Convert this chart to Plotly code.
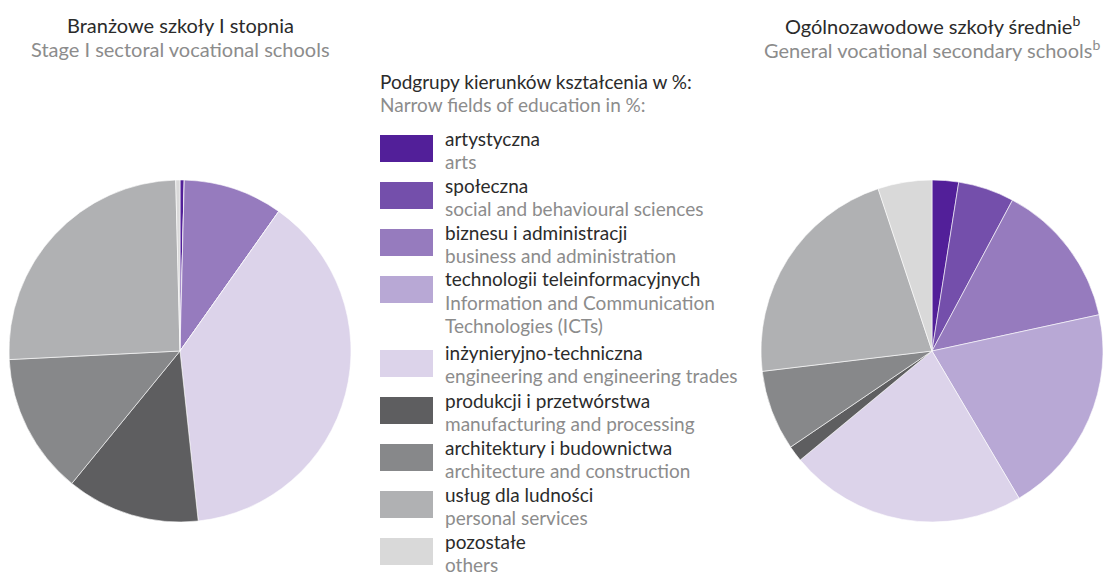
import plotly.graph_objects as go

# Narrow fields of education (legend order)
labels_pl = ["artystyczna", "społeczna", "biznesu i administracji", "technologii teleinformacyjnych",
             "inżynieryjno-techniczna", "produkcji i przetwórstwa", "architektury i budownictwa",
             "usług dla ludności", "pozostałe"]
labels_en = [["arts"], ["social and behavioural sciences"], ["business and administration"],
             ["Information and Communication", "Technologies (ICTs)"],
             ["engineering and engineering trades"], ["manufacturing and processing"],
             ["architecture and construction"], ["personal services"], ["others"]]
colors = ["#521f99", "#744fab", "#967bbe", "#b8a8d5", "#dcd3ea",
          "#5e5e60", "#87888a", "#b0b1b3", "#d9d9d9"]

# shares in %
sectoral_stage1 = [0.4, 0.0, 9.4, 0.0, 38.5, 12.6, 13.3, 25.4, 0.4]
general_vocational = [2.5, 5.3, 13.8, 19.9, 22.5, 1.5, 7.6, 21.8, 5.1]

W, H = 1103, 572
DARK = "#2b2b2b"
GREY = "#8c8c8c"
FONT = "Lato"


def px(x):
    return x / W


def py(y):
    return 1 - y / H


fig = go.Figure()

for vals, (x0, x1) in [(sectoral_stage1, (9, 351)), (general_vocational, (761, 1103))]:
    fig.add_trace(go.Pie(
        labels=labels_pl, values=vals, sort=False, direction="clockwise", rotation=0,
        marker=dict(colors=colors, line=dict(color="white", width=0.6)),
        textinfo="none", showlegend=False,
        domain=dict(x=[px(x0), px(x1)], y=[py(522), py(180)]),
    ))

annotations = []


def add_text(x, y, text, color, size=19, anchor="left"):
    annotations.append(dict(x=px(x), y=py(y), xref="paper", yref="paper", text=text,
                            showarrow=False, xanchor=anchor, yanchor="middle",
                            font=dict(family=FONT, size=size, color=color)))


# pie titles
add_text(180, 25, "Branżowe szkoły I stopnia", DARK, 20, "center")
add_text(180, 49, "Stage I sectoral vocational schools", GREY, 20, "center")
add_text(932, 25, "Ogólnozawodowe szkoły średnie<sup>b</sup>", DARK, 20, "center")
add_text(932, 49, "General vocational secondary schools<sup>b</sup>", GREY, 20, "center")

# legend header
add_text(378, 82, "Podgrupy kierunków kształcenia w %:", DARK)
add_text(378, 105, "Narrow fields of education in %:", GREY)

# legend items
shapes = []
top = 135
for pl, en, col in zip(labels_pl, labels_en, colors):
    shapes.append(dict(type="rect", xref="paper", yref="paper",
                       x0=px(380), x1=px(433), y0=py(top + 27), y1=py(top),
                       fillcolor=col, line=dict(width=0)))
    add_text(443, top + 3, pl, DARK)
    for i, line in enumerate(en):
        add_text(443, top + 26 + 23 * i, line, GREY)
    top += 47 + 27 * (len(en) - 1)

fig.update_layout(
    width=W, height=H,
    margin=dict(l=0, r=0, t=0, b=0),
    paper_bgcolor="white", plot_bgcolor="white",
    annotations=annotations, shapes=shapes,
    font=dict(family=FONT),
)

fig.write_html("out.html", config={"displayModeBar": False},
               post_script="document.body.style.margin='0';")
